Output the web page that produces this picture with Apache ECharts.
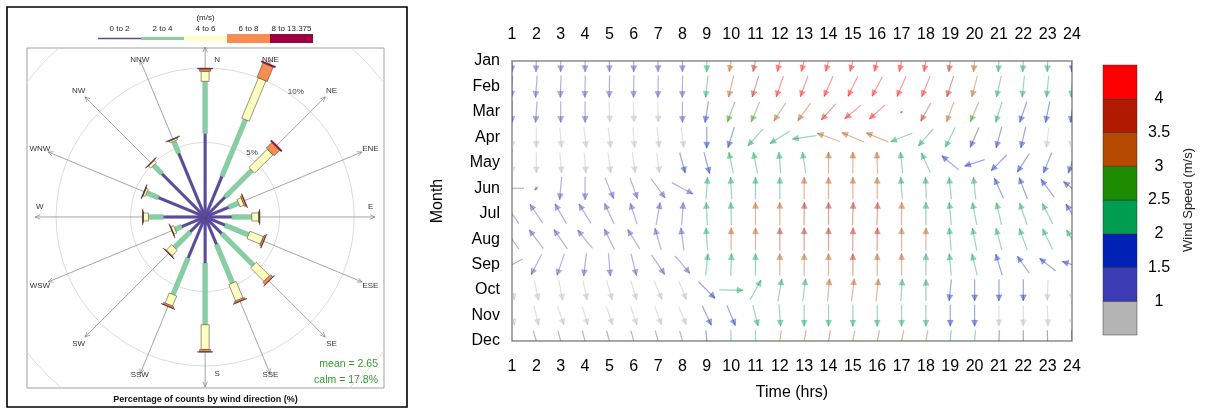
<!DOCTYPE html>
<html><head><meta charset="utf-8">
<script src="https://cdn.jsdelivr.net/npm/echarts@6/dist/echarts.min.js"></script>
<style>html,body{margin:0;padding:0;background:#fff}#c{width:1215px;height:412px}</style>
</head><body><div id="c"></div>
<script>
// ---------------- wind rose data ----------------
const roseDirs = ['N','NNE','NE','ENE','E','ESE','SE','SSE','S','SSW','SW','WSW','W','WNW','NW','NNW'];
const roseBins = ['0 to 2','2 to 4','4 to 6','6 to 8','8 to 13.375'];
const roseColors = ['#5A4B9E','#86CFA3','#FFFFBF','#F88D52','#9E0142'];
const pct0to2  = [5.60,2.95,1.90,1.70,1.79,1.45,1.58,2.00,3.09,2.98,1.42,1.70,2.80,3.39,4.10,4.64];
const pct2to4  = [3.50,4.12,2.53,0.72,1.34,1.70,3.00,2.80,4.14,2.66,1.49,0.48,1.00,0.85,0.80,0.86];
const pct4to6  = [0.68,2.93,1.74,0.30,0.45,0.97,1.27,1.20,1.67,0.73,0.50,0.20,0.34,0.15,0.20,0.12];
const pct6to8  = [0.15,1.04,0.53,0.12,0.07,0.12,0.20,0.12,0.15,0.12,0.04,0.02,0.03,0.03,0.03,0.03];
const pct8to13 = [0.05,0.10,0.10,0.03,0.02,0.02,0.03,0.02,0.02,0.02,0.03,0.02,0.03,0.03,0.03,0.03];
const roseRings = [5,10,15];
const roseRingLabels = [5,10];
const roseMean = 2.65;
const roseCalm = 17.8;

// ---------------- vector field data ----------------
const hours = [1,2,3,4,5,6,7,8,9,10,11,12,13,14,15,16,17,18,19,20,21,22,23,24];
const months = ['Jan','Feb','Mar','Apr','May','Jun','Jul','Aug','Sep','Oct','Nov','Dec'];
// direction the arrow points (degrees clockwise from up)
const arrowDir = [
 [180,182,180,180,180,180,180,180, 180,190,193,193, 195,195,195,195, 192,190,188,186, 184,183,182,180],
 [182,184,182,181,181,181,181,181, 186,193,197,199, 200,204,206,208, 204,202,198,195, 193,186,186,185],
 [180,184,180,180,178,178,178,180, 189,200,203,213, 216,222,230,228, 220,209,200,203, 197,199,191,188],
 [178,180,175,173,173,175,174,172, 180,197,222,238, 262,290,293,292, 248,221,206,204, 195,193,187,185],
 [178,180,175,175,172,172,172,165, 165,348,349,355, 351,0,0,358, 354,336,310,252, 225,213,202,200],
 [270,225,185,180,157,160,144,118, 4,357,0,0, 0,0,0,0, 356,358,354,354, 336,339,323,308],
 [325,326,330,328,335,342,10,4, 357,358,0,0, 1,0,2,2, 1,0,355,349, 347,341,333,328],
 [325,323,325,321,334,328,344,352, 356,0,0,0, 0,0,1,1, 0,0,355,349, 345,340,334,330],
 [242,208,199,187,175,166,146,140, 6,2,0,0, 0,0,0,0, 0,0,355,346, 343,325,308,288],
 [165,168,169,168,164,163,158,158, 135,91,29,10, 7,5,7,6, 4,0,186,180, 180,180,182,180],
 [165,167,160,163,161,161,160,157, 155,157,166,176, 180,180,180,180, 180,180,180,180, 180,180,178,178],
 [165,163,165,165,165,165,165,165, 175,178,180,188, 190,190,190,192, 192,190,185,185, 182,180,178,178]
];
// relative vector strength (arrow length)
const arrowMag = [
 [0.9,0.9,0.9,0.9,0.9,0.9,0.9,0.9, 0.9,0.9,0.9,0.9, 0.9,0.9,0.9,0.9, 0.9,0.9,0.9,0.9, 0.9,0.9,0.9,0.9],
 [0.9,0.92,0.92,0.92,0.92,0.92,0.92,0.92, 0.92,0.92,0.92,0.92, 0.92,0.92,0.92,0.92, 0.92,0.92,0.92,0.9, 0.9,0.9,0.9,0.9],
 [0.88,0.88,0.88,0.88,0.85,0.85,0.85,0.88, 0.9,0.9,0.9,0.9, 0.9,0.9,0.88,0.88, 0.12,0.88,0.88,0.9, 0.9,0.92,0.9,0.9],
 [0.85,0.85,0.85,0.85,0.85,0.85,0.85,0.85, 0.9,0.9,0.95,0.98, 1.0,1.0,1.0,1.0, 0.98,0.95,0.92,0.9, 0.9,0.9,0.85,0.85],
 [0.85,0.85,0.85,0.85,0.85,0.85,0.85,0.88, 0.92,0.9,0.9,0.88, 0.9,0.9,0.9,0.9, 0.9,0.9,0.92,0.88, 0.92,0.92,0.92,0.9],
 [1.0,0.2,0.95,0.95,0.92,0.92,0.98,1.0, 0.92,0.92,0.92,0.92, 0.92,0.92,0.92,0.92, 0.92,0.92,0.92,0.92, 0.92,0.95,0.92,0.9],
 [1.0,0.95,0.95,0.95,0.95,0.92,0.95,0.95, 0.95,0.95,0.95,0.95, 0.95,0.95,0.95,0.95, 0.95,0.95,0.95,0.95, 0.95,0.95,0.95,0.95],
 [1.0,0.98,0.98,0.98,0.95,0.95,0.95,0.95, 0.95,0.95,0.95,0.95, 0.95,0.95,0.95,0.95, 0.95,0.95,0.95,0.95, 0.95,0.95,0.95,0.9],
 [1.0,0.95,0.95,0.95,0.95,0.95,0.98,0.95, 0.92,0.92,0.92,0.92, 0.92,0.92,0.92,0.92, 0.92,0.92,0.92,0.92, 0.92,0.85,0.85,0.85],
 [0.85,0.85,0.85,0.85,0.85,0.85,0.85,0.85, 0.98,1.0,0.95,0.95, 0.95,0.95,0.95,0.95, 0.92,0.9,0.9,0.9, 0.9,0.9,0.85,0.85],
 [0.82,0.82,0.82,0.82,0.82,0.82,0.82,0.82, 0.9,0.9,0.9,0.9, 0.9,0.9,0.9,0.9, 0.9,0.9,0.9,0.9, 0.85,0.85,0.85,0.85],
 [0.9,0.9,0.9,0.9,0.9,0.9,0.9,0.9, 0.9,0.9,0.9,0.9, 0.9,0.9,0.9,0.9, 0.9,0.9,0.9,0.9, 0.9,0.9,0.9,0.9]
];
// mean wind speed (m/s) for the arrow colour
const arrowSpeed = [
 [1.3,1.3,1.3,1.3,1.3,1.3,1.3,1.3, 2.2,3.2,3.7,4.2, 4.2,4.3,4.3,4.3, 4.2,4.1,3.7,3.2, 2.4,2.3,2.2,1.7],
 [1.3,1.3,1.3,1.3,1.3,1.3,1.3,1.3, 2.2,3.2,3.7,4.2, 4.3,4.3,4.3,4.3, 4.2,4.1,3.7,3.2, 2.4,2.3,2.2,2.1],
 [1.3,1.3,1.2,1.2,0.9,0.9,0.9,1.2, 1.7,2.6,2.7,3.2, 3.3,3.6,4.1,4.1, 4.1,3.7,3.2,2.7, 2.3,1.8,1.7,1.6],
 [0.9,0.9,0.9,0.9,0.9,0.9,0.9,0.9, 1.7,1.8,2.3,2.4, 2.4,3.2,3.2,3.2, 2.4,2.3,2.2,1.8, 1.7,1.6,0.9,0.9],
 [0.9,0.9,0.9,0.9,0.9,0.9,0.9,1.6, 1.7,2.2,2.3,2.4, 2.4,3.2,3.2,3.2, 2.4,2.2,1.8,1.7, 1.7,1.6,1.6,1.6],
 [1.3,1.3,1.3,1.3,1.3,1.3,1.3,1.3, 2.2,2.3,2.4,2.4, 3.1,3.2,3.2,3.1, 2.4,2.3,2.2,2.1, 1.8,1.7,1.7,1.6],
 [1.3,1.3,1.3,1.3,1.3,1.3,1.3,1.3, 2.2,2.4,3.1,3.2, 3.6,3.7,3.7,3.6, 3.2,2.4,2.3,2.3, 2.2,2.2,2.1,1.8],
 [1.3,1.3,1.3,1.3,1.3,1.3,1.3,1.3, 2.3,3.1,3.2,3.6, 3.7,3.8,3.7,3.6, 3.2,3.1,2.4,2.3, 2.3,2.2,2.2,2.1],
 [1.3,1.3,1.3,1.3,1.3,1.3,1.3,1.3, 2.2,2.3,2.4,3.1, 3.2,3.2,3.6,3.2, 3.1,2.4,2.3,2.2, 1.8,1.7,1.7,1.6],
 [0.9,0.9,0.9,0.9,0.9,0.9,0.9,0.9, 1.7,2.2,2.3,2.4, 2.4,3.1,3.2,3.1, 2.4,2.3,1.8,1.7, 1.7,1.6,0.9,0.9],
 [0.9,0.9,0.9,0.9,0.9,0.9,0.9,0.9, 1.7,1.8,2.2,2.3, 2.4,2.4,2.4,2.4, 2.3,2.2,1.8,1.6, 0.9,0.9,0.9,0.9],
 [1.3,1.3,1.3,1.3,1.3,1.3,1.3,1.3, 1.7,2.2,2.4,3.1, 3.2,3.6,3.2,3.2, 3.2,3.1,2.4,2.3, 1.7,1.6,1.6,1.6]
];
const speedBreaks = [1,1.5,2,2.5,3,3.5,4];
const speedColors = ['#B4B4B4','#3C3CB4','#0022B4','#009C50','#1E8C00','#B54A00','#B21A00','#FF0000'];
const speedTicks = [1,1.5,2,2.5,3,3.5,4];
const speedRange = [0.5,4.5];

// ---------------- styling constants ----------------
const FONT = '"Liberation Sans", Arial, Helvetica, sans-serif';
const roseBarWidth = [3,5,8,11,15];
const arrowMaxLen = 24;
const arrowAlpha = 0.4;

function speedColor(v){
  let i = 0; while (i < speedBreaks.length && v >= speedBreaks[i]) i++;
  return speedColors[i];
}

const roseBinArrays = [pct0to2, pct2to4, pct4to6, pct6to8, pct8to13];
const roseBarData = [];
for (let d = 0; d < roseDirs.length; d++) {
  let acc = 0;
  for (let b = 0; b < roseBinArrays.length; b++) {
    const v = roseBinArrays[b][d];
    roseBarData.push([d, b, acc, acc + v]);
    acc += v;
  }
}
const arrowData = [];
for (let m = 0; m < months.length; m++)
  for (let h = 0; h < hours.length; h++)
    arrowData.push([hours[h], m + 1, arrowDir[m][h], arrowMag[m][h], arrowSpeed[m][h]]);

const colorCells = [];
for (let i = 0; i < speedColors.length; i++) {
  const lo = i === 0 ? speedRange[0] : speedBreaks[i-1];
  const hi = i === speedColors.length - 1 ? speedRange[1] : speedBreaks[i];
  colorCells.push([lo, hi, i]);
}

function dirVec(d){ const t = d * 22.5 * Math.PI / 180; return [Math.sin(t), Math.cos(t)]; }

function renderRing(params, api){
  const r = api.value(0);
  const c = api.coord([0,0]), e = api.coord([r,0]);
  return {type:'circle', shape:{cx:c[0], cy:c[1], r:e[0]-c[0]}, style:{fill:'none', stroke:'#dcdcdc', lineWidth:1}};
}
function renderSpoke(params, api){
  const d = api.value(0); const [s,c] = dirVec(d);
  const R = 11.4;
  const p0 = api.coord([0,0]), p1 = api.coord([R*s, R*c]);
  const ux = s, uy = -c;
  const ah = 5, aw = 2.2;
  const bx = p1[0] - ux*ah, by = p1[1] - uy*ah;
  return {type:'group', children:[
    {type:'line', shape:{x1:p0[0], y1:p0[1], x2:p1[0], y2:p1[1]}, style:{stroke:'#808080', lineWidth:0.7}},
    {type:'polyline', shape:{points:[[bx - uy*aw, by + ux*aw],[p1[0],p1[1]],[bx + uy*aw, by - ux*aw]]}, style:{fill:'none', stroke:'#808080', lineWidth:0.7}}
  ]};
}
function renderBar(params, api){
  const d = api.value(0), b = api.value(1), r0 = api.value(2), r1 = api.value(3);
  const [s,c] = dirVec(d);
  const p0 = api.coord([r0*s, r0*c]), p1 = api.coord([r1*s, r1*c]);
  const hw = roseBarWidth[b] / 2;
  const nx = c*hw, ny = s*hw;
  const stroke = b >= 2 ? 'rgba(70,50,40,0.75)' : 'rgba(60,60,60,0.25)';
  return {type:'polygon', shape:{points:[[p0[0]+nx,p0[1]+ny],[p1[0]+nx,p1[1]+ny],[p1[0]-nx,p1[1]-ny],[p0[0]-nx,p0[1]-ny]]},
    style:{fill:roseColors[b], stroke:stroke, lineWidth: b >= 2 ? 0.7 : 0.4}};
}
function renderRoseLabel(params, api){
  const d = api.value(0); const [s,c] = dirVec(d);
  let x, y;
  if (d % 4 === 0) {
    const R = (d % 8 === 0) ? 10.55 : 11.1;
    const p = api.coord([R*s, R*c]);
    if (d % 8 === 0) { x = p[0] + 12; y = p[1]; } else { x = p[0]; y = p[1] - 10; }
  } else {
    const R = (d % 8 === 1 || d % 8 === 7) ? 11.45 : 12.0;
    const p = api.coord([R*s, R*c]); x = p[0]; y = p[1];
  }
  return {type:'text', x:x, y:y, style:{text:roseDirs[d], fill:'#333', font:'8px ' + FONT, align:'center', verticalAlign:'middle'}};
}
function renderRingLabel(params, api){
  const v = api.value(0);
  const t = 36 * Math.PI / 180, R = v + 0.35;
  const p = api.coord([R*Math.sin(t), R*Math.cos(t)]);
  return {type:'text', x:p[0], y:p[1], style:{text:v + '%', fill:'#444', font:'8px ' + FONT, align:'center', verticalAlign:'middle'}};
}
function renderArrow(params, api){
  const p = api.coord([api.value(0), api.value(1)]);
  const dir = api.value(2) * Math.PI / 180, mag = api.value(3), spd = api.value(4);
  const L = mag * arrowMaxLen;
  const ux = Math.sin(dir), uy = -Math.cos(dir);
  const tx = p[0] - ux*L/2, ty = p[1] - uy*L/2;
  const hx = p[0] + ux*L/2, hy = p[1] + uy*L/2;
  const ah = Math.min(6, L*0.6), aw = Math.min(3, L*0.3);
  const bx = hx - ux*ah, by = hy - uy*ah;
  const col = speedColor(spd);
  return {type:'group', children:[
    {type:'line', shape:{x1:tx, y1:ty, x2:hx, y2:hy}, style:{stroke:col, lineWidth:1.2, opacity:arrowAlpha}},
    {type:'polygon', shape:{points:[[hx,hy],[bx - uy*aw, by + ux*aw],[bx + uy*aw, by - ux*aw]]}, style:{fill:col, stroke:col, lineWidth:0.6, opacity:arrowAlpha}}
  ]};
}
function renderCell(params, api){
  const lo = api.value(0), hi = api.value(1), i = api.value(2);
  const a = api.coord([0, hi]), b = api.coord([1, lo]);
  return {type:'rect', shape:{x:a[0], y:a[1], width:b[0]-a[0], height:b[1]-a[1]}, style:{fill:speedColors[i], stroke:'rgba(40,40,40,0.45)', lineWidth:1}};
}

const legX0 = 98, legW = 43, legY = 38.5;
const legH = [1.6, 3, 4.5, 9, 9];
const graphics = [
  {type:'rect', shape:{x:7, y:7, width:400, height:400}, style:{fill:'none', stroke:'#000', lineWidth:1.6}, silent:true},
  {type:'text', x:205.5, y:17.5, style:{text:'(m/s)', fill:'#222', font:'8px ' + FONT, align:'center', verticalAlign:'middle'}},
  {type:'text', x:205.5, y:400, style:{text:'Percentage of counts by wind direction (%)', fill:'#111', font:'bold 9px ' + FONT, align:'center', verticalAlign:'middle'}},
  {type:'text', x:378, y:364.5, style:{text:'mean = ' + roseMean, fill:'#2E9A2E', font:'10.5px ' + FONT, align:'right', verticalAlign:'middle'}},
  {type:'text', x:378, y:380, style:{text:'calm = ' + roseCalm + '%', fill:'#2E9A2E', font:'10.5px ' + FONT, align:'right', verticalAlign:'middle'}}
];
roseBins.forEach((lab, i) => {
  graphics.push({type:'rect', shape:{x:legX0 + i*legW, y:legY - legH[i]/2, width:legW, height:legH[i]}, style:{fill:roseColors[i]}});
  graphics.push({type:'text', x:legX0 + i*legW + legW/2, y:29, style:{text:lab, fill:'#222', font:'8px ' + FONT, align:'center', verticalAlign:'middle'}});
});

const axisFont = {fontFamily:FONT, fontSize:16, color:'#000'};
const option = {
  animation:false,
  backgroundColor:'#fff',
  graphic: graphics,
  grid:[
    {left:27, top:48, width:357, height:340, show:true, borderColor:'#a0a0a0', borderWidth:1, backgroundColor:'transparent'},
    {left:512, top:61, width:560, height:280, show:true, borderColor:'#8c8c8c', borderWidth:1.5},
    {left:1103, top:65, width:34, height:270, show:false}
  ],
  xAxis:[
    {gridIndex:0, type:'value', min:-11.95, max:12.0, show:false},
    {gridIndex:1, type:'value', min:1, max:24, interval:1, position:'bottom',
      axisLine:{show:false}, axisTick:{show:false}, splitLine:{show:false},
      axisLabel:Object.assign({margin:18}, axisFont),
      name:'Time (hrs)', nameLocation:'middle', nameGap:44, nameTextStyle:{fontFamily:FONT, fontSize:16, color:'#000'}},
    {gridIndex:1, type:'value', min:1, max:24, interval:1, position:'top',
      axisLine:{show:false}, axisTick:{show:false}, splitLine:{show:false},
      axisLabel:Object.assign({margin:18}, axisFont)},
    {gridIndex:2, type:'value', min:0, max:1, show:false}
  ],
  yAxis:[
    {gridIndex:0, type:'value', min:-11.48, max:11.34, show:false},
    {gridIndex:1, type:'value', min:1, max:12, interval:1, inverse:true,
      axisLine:{show:false}, axisTick:{show:false}, splitLine:{show:false},
      axisLabel:Object.assign({margin:12, formatter:(v)=>months[v-1] || ''}, axisFont),
      name:'Month', nameLocation:'middle', nameGap:66, nameTextStyle:{fontFamily:FONT, fontSize:16, color:'#000'}},
    {gridIndex:2, type:'value', min:speedRange[0], max:speedRange[1], interval:0.5, position:'right',
      axisLine:{show:false}, axisTick:{show:false}, splitLine:{show:false},
      axisLabel:Object.assign({margin:22, align:'center', padding:[4,0,0,0], formatter:(v)=> speedTicks.indexOf(v) >= 0 ? String(v) : ''}, axisFont),
      name:'Wind Speed (m/s)', nameLocation:'middle', nameRotate:90, nameGap:45, nameTextStyle:{fontFamily:FONT, fontSize:13, color:'#222'}}
  ],
  series:[
    {type:'custom', xAxisIndex:0, yAxisIndex:0, clip:true, silent:true, renderItem:renderRing, data:roseRings.map(v=>[v])},
    {type:'custom', xAxisIndex:0, yAxisIndex:0, clip:false, silent:true, renderItem:renderSpoke, data:roseDirs.map((d,i)=>[i])},
    {type:'custom', xAxisIndex:0, yAxisIndex:0, clip:false, silent:true, renderItem:renderBar, data:roseBarData},
    {type:'custom', xAxisIndex:0, yAxisIndex:0, clip:false, silent:true, renderItem:renderRoseLabel, data:roseDirs.map((d,i)=>[i])},
    {type:'custom', xAxisIndex:0, yAxisIndex:0, clip:false, silent:true, renderItem:renderRingLabel, data:roseRingLabels.map(v=>[v])},
    {type:'custom', xAxisIndex:1, yAxisIndex:1, clip:true, silent:true, renderItem:renderArrow, data:arrowData},
    {type:'custom', xAxisIndex:3, yAxisIndex:2, clip:false, silent:true, renderItem:renderCell, data:colorCells}
  ]
};
const chart = echarts.init(document.getElementById('c'));
chart.setOption(option);
</script>
</body></html>
